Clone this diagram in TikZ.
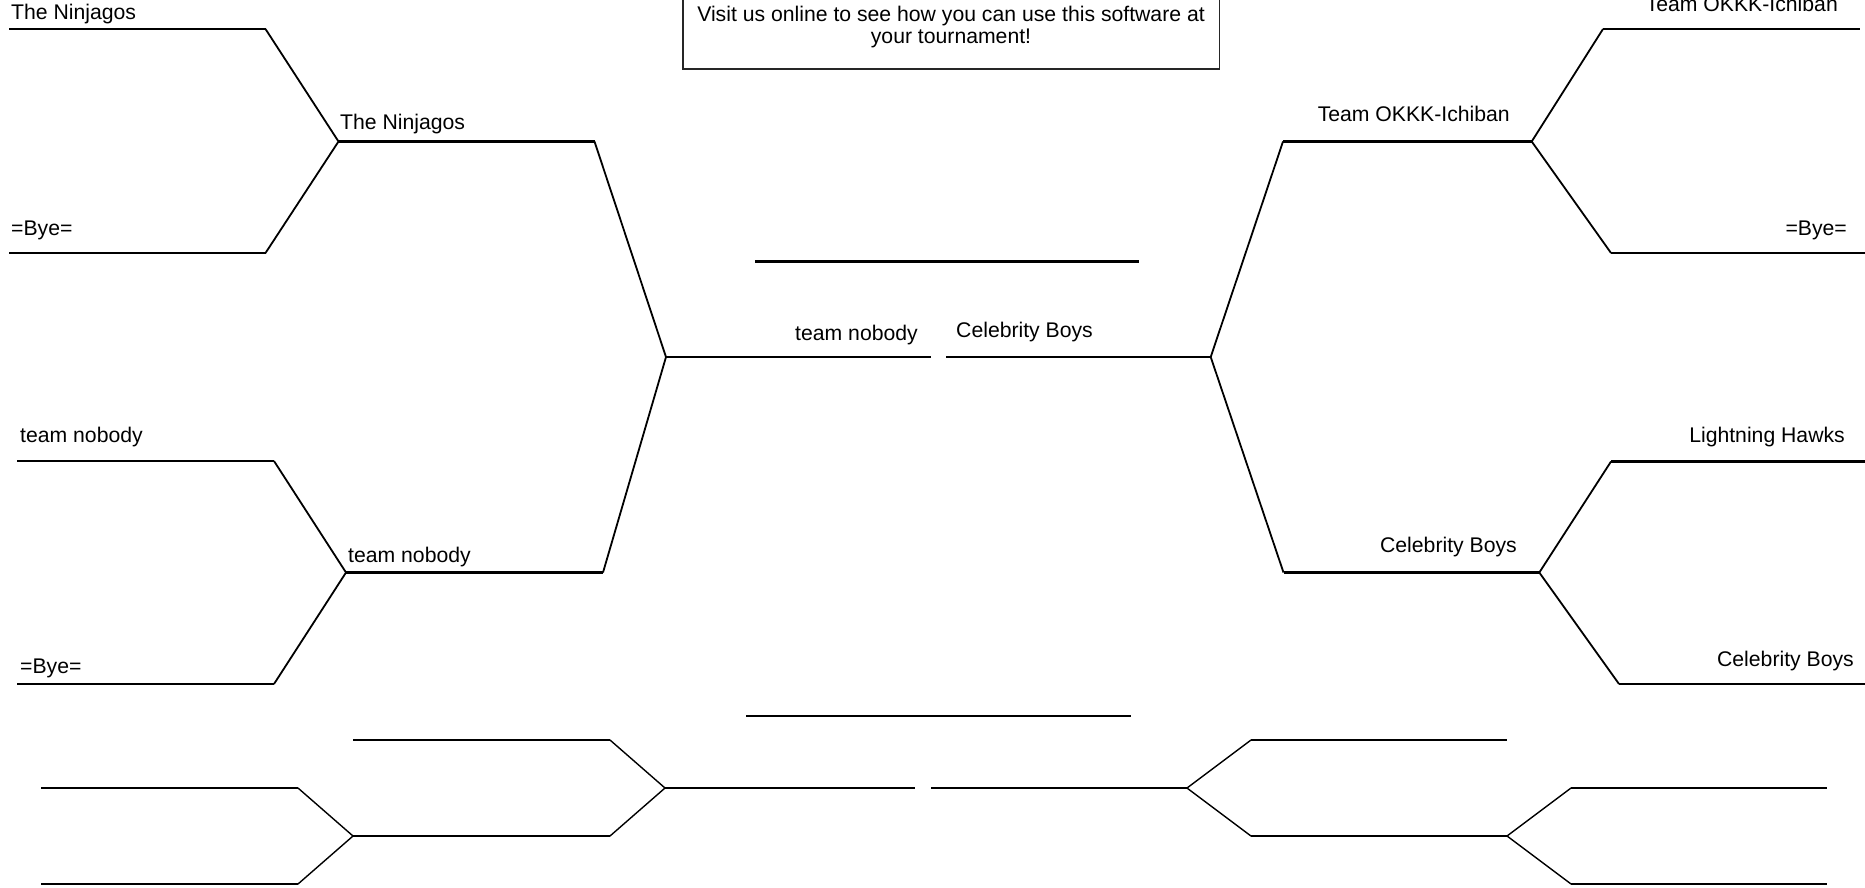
\documentclass[tikz,border=0pt]{standalone}
\usepackage{fontspec}
\setmainfont{Liberation Sans}
\begin{document}
\begin{tikzpicture}[x=1pt,y=-1pt,
  hline/.style={line width=2.9pt,line cap=butt},
  dline/.style={line width=1.8pt},
  bdline/.style={line width=1.4pt},
  lbl/.style={inner sep=0pt,font=\fontsize{21.2}{21.2}\selectfont},
  lblw/.style={lbl,anchor=base west},
  lble/.style={lbl,anchor=base east}]
\useasboundingbox (0,0) rectangle (1865,887);
% ---- coordinates: top-left bracket
\coordinate (tl1s) at (9,29);      \coordinate (tl1e) at (265.5,29);
\coordinate (tl2s) at (9,253);     \coordinate (tl2e) at (265.5,253);
\coordinate (tlm)  at (338.5,141.5); \coordinate (tlme) at (594.5,141.5);
% bottom-left bracket
\coordinate (bl1s) at (17,461);    \coordinate (bl1e) at (274,461);
\coordinate (bl2s) at (17,684);    \coordinate (bl2e) at (274,684);
\coordinate (blm)  at (346,572.5); \coordinate (blme) at (603,572.5);
% centre
\coordinate (cl) at (666,357);     \coordinate (cle) at (931,357);
\coordinate (cr) at (946,357);     \coordinate (cre) at (1210.7,357);
\coordinate (ch1) at (755,261.5);  \coordinate (ch2) at (1139,261.5);
% top-right bracket
\coordinate (trm)  at (1283,141.5); \coordinate (trme) at (1531.7,141.5);
\coordinate (tr1s) at (1603,29);    \coordinate (tr1e) at (1860,29);
\coordinate (tr2s) at (1611,253);   \coordinate (tr2e) at (1865,253);
% bottom-right bracket
\coordinate (brm)  at (1283.5,572.5); \coordinate (brme) at (1539.3,572.5);
\coordinate (br1s) at (1611,461.5);   \coordinate (br1e) at (1865,461.5);
\coordinate (br2s) at (1619,684);     \coordinate (br2e) at (1865,684);
% ---- lines
\draw[hline] (tl1s) -- (tl1e);
\draw[hline] (tl2s) -- (tl2e);
\draw[hline] (tlm) -- (tlme);
\draw[dline] (tl1e) -- (tlm) -- (tl2e);
\draw[hline] (bl1s) -- (bl1e);
\draw[hline] (bl2s) -- (bl2e);
\draw[hline] (blm) -- (blme);
\draw[dline] (bl1e) -- (blm) -- (bl2e);
\draw[dline] (tlme) -- (cl) -- (blme);
\draw[hline] (cl) -- (cle);
\draw[hline] (cr) -- (cre);
\draw[hline] (ch1) -- (ch2);
\draw[hline] (trm) -- (trme);
\draw[hline] (tr1s) -- (tr1e);
\draw[hline] (tr2s) -- (tr2e);
\draw[dline] (tr1s) -- (trme) -- (tr2s);
\draw[hline] (brm) -- (brme);
\draw[hline] (br1s) -- (br1e);
\draw[hline] (br2s) -- (br2e);
\draw[dline] (br1s) -- (brme) -- (br2s);
\draw[dline] (trm) -- (cre) -- (brm);
% ---- box
\coordinate (bx1) at (683,-20); \coordinate (bx2) at (1219.5,69);
\draw[line width=1.3pt,black!85] (bx1) rectangle (bx2);
\node[lbl,anchor=base] (info1) at (951,21.5) {Visit us online to see how you can use this software at};
\node[lbl,anchor=base] (info2) at (951,43.5) {your tournament!};
% ---- labels
\node[lblw] (n1) at (11,19.5) {The Ninjagos};
\node[lblw] (n2) at (11,235) {=Bye=};
\node[lblw] (n3) at (340,129) {The Ninjagos};
\node[lblw] (n4) at (20,442.5) {team nobody};
\node[lblw] (n5) at (20,673) {=Bye=};
\node[lblw] (n6) at (348,562.5) {team nobody};
\node[lble] (n7) at (918,340) {team nobody};
\node[lblw] (n8) at (956,337) {Celebrity Boys};
\node[lble] (n9) at (1838,11) {Team OKKK-Ichiban};
\node[lble] (n10) at (1510,121.5) {Team OKKK-Ichiban};
\node[lble] (n11) at (1847,235) {=Bye=};
\node[lble] (n12) at (1845,442) {Lightning Hawks};
\node[lble] (n13) at (1517,552) {Celebrity Boys};
\node[lble] (n14) at (1854,666.5) {Celebrity Boys};
% ---- lower empty bracket
\coordinate (b0s) at (746,716);  \coordinate (b0e) at (1131,716);
\coordinate (p1s) at (41,788);   \coordinate (p1e) at (298,788);
\coordinate (p2s) at (41,884);   \coordinate (p2e) at (298,884);
\coordinate (pj)  at (353,836);  \coordinate (pje) at (610,836);
\coordinate (pt)  at (353,740);  \coordinate (pte) at (610,740);
\coordinate (pc)  at (665,788);  \coordinate (pce) at (915,788);
\coordinate (qc)  at (931,788);  \coordinate (qce) at (1187,788);
\coordinate (qt)  at (1251,740); \coordinate (qte) at (1507,740);
\coordinate (qb)  at (1251,836); \coordinate (qbe) at (1507,836);
\coordinate (q1)  at (1571,788); \coordinate (q1e) at (1827,788);
\coordinate (q2)  at (1571,884); \coordinate (q2e) at (1827,884);
\foreach \s/\e in {b0s/b0e,p1s/p1e,p2s/p2e,pj/pje,pt/pte,pc/pce,qc/qce,qt/qte,qb/qbe,q1/q1e,q2/q2e}
  \draw[hline] (\s) -- (\e);
\draw[bdline] (p1e) -- (pj) -- (p2e);
\draw[bdline] (pte) -- (pc) -- (pje);
\draw[bdline] (qt) -- (qce) -- (qb);
\draw[bdline] (q1) -- (qbe) -- (q2);
\end{tikzpicture}
\end{document}
